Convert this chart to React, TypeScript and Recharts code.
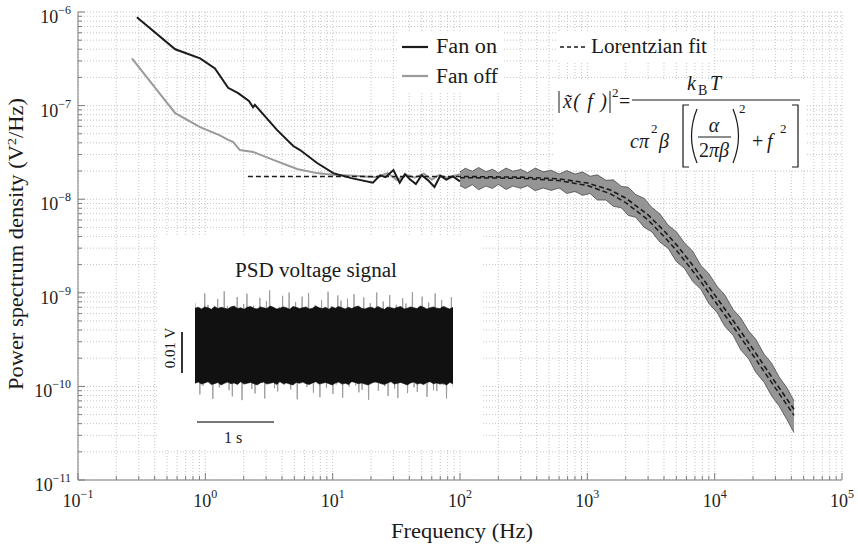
import React from "react";
import { ComposedChart, Line, Area, XAxis, YAxis, CartesianGrid } from "recharts";

const SERIF = "'Liberation Serif', 'Times New Roman', serif";
const BLACK = "#1b1b1b";
const GRAY = "#9a9a9a";
const AXIS = "#7c7c7c";

// log axes: decades with minor multiples
const xDecades = [-1, 0, 1, 2, 3, 4];
const yDecades = [-11, -10, -9, -8, -7];
const minorSteps = [1, 2, 3, 4, 5, 6, 7, 8, 9];
const xTicks = [...xDecades.flatMap((d) => minorSteps.map((m) => m * 10 ** d)), 1e5];
const yTicks = [...yDecades.flatMap((d) => minorSteps.map((m) => m * 10 ** d)), 1e-6];

// fan on, low frequency part (Hz, V^2/Hz)
const fanOnF = [0.29, 0.58, 0.91, 1.19, 1.51, 1.81, 2.2, 2.37, 2.45, 3.65, 4.9, 5.55, 7.5, 10.1, 14, 20.7, 23.6, 26, 30, 33.6, 37, 40, 45, 50, 56, 63, 70, 78, 88, 100];
const fanOnV = [8.8e-7, 4.0e-7, 3.2e-7, 2.5e-7, 1.55e-7, 1.36e-7, 1.12e-7, 9.6e-8, 1.02e-7, 5.5e-8, 3.7e-8, 3.35e-8, 2.45e-8, 1.9e-8, 1.68e-8, 1.5e-8, 1.8e-8, 1.72e-8, 2.05e-8, 1.5e-8, 1.85e-8, 1.65e-8, 1.45e-8, 1.8e-8, 1.6e-8, 1.35e-8, 1.78e-8, 1.62e-8, 1.75e-8, 1.55e-8];

// fan off, low frequency part
const fanOffF = [0.265, 0.58, 0.91, 1.3, 1.51, 1.65, 1.87, 2.37, 3.5, 5.25, 7.5, 10, 15, 19, 22, 27, 32, 38, 44, 52, 60, 68, 80, 100];
const fanOffV = [3.2e-7, 8.3e-8, 5.9e-8, 4.8e-8, 4.3e-8, 4.1e-8, 3.35e-8, 3.2e-8, 2.6e-8, 2.1e-8, 1.9e-8, 1.82e-8, 1.78e-8, 1.74e-8, 1.72e-8, 1.9e-8, 1.6e-8, 1.82e-8, 1.7e-8, 1.88e-8, 1.62e-8, 1.8e-8, 1.7e-8, 1.85e-8];

// noisy spread of both spectra above 100 Hz (upper / lower edge)
const bandF = [100, 110, 125, 140, 160, 180, 200, 230, 260, 300, 340, 390, 450, 520, 600, 690, 800, 920, 1050, 1200, 1400, 1600, 1850, 2100, 2400, 2800, 3200, 3700, 4300, 5000, 5800, 6700, 7800, 9000, 10500, 12000, 14000, 16000, 18500, 21000, 24500, 28000, 32000, 37000, 42000];
const bandHi = [1.96e-8, 2.14e-8, 1.99e-8, 2.18e-8, 1.97e-8, 2.09e-8, 1.91e-8, 2.15e-8, 1.99e-8, 2.08e-8, 1.92e-8, 2.15e-8, 1.96e-8, 2.04e-8, 1.86e-8, 2.02e-8, 1.86e-8, 1.95e-8, 1.76e-8, 1.82e-8, 1.59e-8, 1.61e-8, 1.37e-8, 1.34e-8, 1.12e-8, 1.02e-8, 8.2e-9, 7.0e-9, 5.3e-9, 4.5e-9, 3.4e-9, 2.8e-9, 1.96e-9, 1.6e-9, 1.16e-9, 9.5e-10, 6.6e-10, 5.4e-10, 3.9e-10, 3.2e-10, 2.2e-10, 1.77e-10, 1.27e-10, 9.6e-11, 7.0e-11];
const bandLo = [1.4e-8, 1.3e-8, 1.43e-8, 1.26e-8, 1.38e-8, 1.3e-8, 1.44e-8, 1.27e-8, 1.38e-8, 1.31e-8, 1.39e-8, 1.23e-8, 1.32e-8, 1.24e-8, 1.32e-8, 1.15e-8, 1.21e-8, 1.1e-8, 1.15e-8, 9.8e-9, 9.8e-9, 8.4e-9, 8.1e-9, 6.7e-9, 6.4e-9, 5.0e-9, 4.5e-9, 3.5e-9, 3.0e-9, 2.16e-9, 1.82e-9, 1.33e-9, 1.09e-9, 7.7e-10, 6.1e-10, 4.4e-10, 3.5e-10, 2.46e-10, 1.97e-10, 1.42e-10, 1.1e-10, 7.9e-11, 6.2e-11, 4.4e-11, 3.2e-11];

// Lorentzian fits
const fitOnF = [2.16, 10, 100, 300, 600, 1000, 1500, 2000, 3000, 4000, 5000, 7000, 10000, 15000, 20000, 30000, 42000];
const fitOnV = [1.75e-8, 1.75e-8, 1.75e-8, 1.72e-8, 1.65e-8, 1.49e-8, 1.26e-8, 1.03e-8, 6.8e-9, 4.6e-9, 3.27e-9, 1.84e-9, 9.5e-10, 4.4e-10, 2.5e-10, 1.1e-10, 5.7e-11];
const fitOffF = [100, 300, 600, 1000, 1500, 2000, 3000, 4000, 5000, 7000, 10000, 15000, 20000, 30000, 42000];
const fitOffV = [1.7e-8, 1.67e-8, 1.58e-8, 1.4e-8, 1.15e-8, 9.2e-9, 6.0e-9, 4.0e-9, 2.85e-9, 1.6e-9, 8.2e-10, 3.8e-10, 2.15e-10, 9.6e-11, 4.9e-11];

// inset: voltage trace (mV) and its dense core envelope
const signal = [
  10.4, -6.1, 8.2, -11.9, 5.3, -9.8, 12.7, -7.4, 9.9, -8.5,
  6.6, -13.0, 8.9, -5.7, 11.3, -10.2, 7.1, -8.3, 13.2, -6.4,
  9.5, -10.9, 5.8, -12.4, 7.7, -9.3, 11.8, -6.9, 8.6, -13.3,
  10.1, -7.2, 12.6, -8.8, 6.3, -10.6, 9.7, -11.7, 5.9, -9.1,
  11.6, -6.6, 8.0, -12.9, 10.8, -5.5, 13.4, -8.7, 7.4, -10.4,
  6.2, -11.2, 9.4, -7.8, 12.1, -9.6, 5.6, -8.1, 12.9, -10.7,
  8.5, -6.3, 10.6, -13.1, 7.3, -9.0, 11.9, -7.0, 9.1, -10.1,
  12.8, -8.4, 6.0, -11.5, 9.8, -6.8, 8.7, -12.6, 11.0, -7.5,
  7.0, -10.3, 13.1, -8.9, 9.6, -11.8, 5.4, -9.5, 12.2, -6.2,
  10.9, -12.7, 8.3, -5.9, 11.4, -10.0, 6.8, -8.6, 12.5, -9.7,
  9.2, -11.4, 6.5, -10.8, 11.7, -7.3, 8.8, -13.2, 10.3, -8.0,
  7.6, -5.6, 12.9, -11.0, 9.0, -8.2, 10.7, -9.9, 6.1, -12.3,
  12.3, -7.7, 8.1, -10.5, 9.9, -12.8, 7.2, -8.8, 11.5, -9.2,
  10.2, -11.6, 6.7, -7.1, 13.0, -10.2, 8.4, -11.3, 9.3, -6.5,
  11.9, -9.4, 7.8, -12.5, 10.5, -8.3, 6.4, -10.9, 12.7, -11.1,
  8.6, -7.4, 11.1, -9.6, 9.5, -12.9, 7.5, -8.5, 11.8, -10.0,
];
const coreHi = [
  9.1, 9.3, 8.9, 9.4, 9.2, 8.8, 9.5, 9.0, 9.3, 9.1, 8.9, 9.4, 9.6, 9.0, 9.2, 8.8, 9.3, 9.5, 9.1, 8.9,
  9.4, 9.2, 9.0, 9.6, 9.3, 8.9, 9.1, 9.4, 9.2, 8.8, 9.5, 9.3, 9.0, 9.2, 9.4, 8.9, 9.1, 9.6, 9.2, 9.0,
  9.3, 8.8, 9.4, 9.1, 9.5, 9.2, 8.9, 9.3, 9.0, 9.4, 9.6, 9.1, 8.9, 9.2, 9.3, 9.0, 9.5, 9.1, 8.8, 9.4,
  9.2, 9.0, 9.3, 9.5, 8.9, 9.1, 9.4, 9.2, 9.0, 9.6, 9.3, 8.9, 9.2, 9.4, 9.1, 9.0, 9.5, 9.2, 8.9, 9.3,
];
const coreLo = [
  -9.2, -8.9, -9.4, -9.1, -8.8, -9.5, -9.3, -9.0, -9.6, -9.2, -8.9, -9.3, -9.1, -9.5, -8.8, -9.4, -9.2, -9.0, -9.3, -9.6,
  -9.1, -8.9, -9.4, -9.2, -9.0, -9.5, -8.8, -9.3, -9.1, -9.4, -9.6, -9.0, -9.2, -8.9, -9.3, -9.5, -9.1, -8.8, -9.4, -9.2,
  -9.0, -9.3, -9.6, -9.1, -8.9, -9.4, -9.2, -9.5, -8.8, -9.0, -9.3, -9.1, -9.4, -9.6, -9.2, -8.9, -9.0, -9.3, -9.5, -9.1,
  -8.8, -9.4, -9.2, -9.0, -9.3, -9.6, -9.1, -8.9, -9.4, -9.2, -9.5, -9.0, -8.8, -9.3, -9.1, -9.4, -9.2, -9.6, -9.0, -9.3,
];

const pts = (f: number[], v: number[]) => f.map((x, i) => ({ f: x, v: v[i] }));
const fanOn = pts(fanOnF, fanOnV);
const fanOff = pts(fanOffF, fanOffV);
const fitOn = pts(fitOnF, fitOnV);
const fitOff = pts(fitOffF, fitOffV);
const band = bandF.map((x, i) => ({ f: x, r: [bandLo[i], bandHi[i]] }));
const signalData = signal.map((v, i) => ({ t: i, v }));
const coreData = coreHi.map((h, i) => ({ t: i, r: [coreLo[i], h] }));

const isMajor = (v: number) => Math.abs(Math.log10(v) - Math.round(Math.log10(v))) < 1e-6;
const expLabel = (v: number) => {
  const e = Math.round(Math.log10(v));
  return e < 0 ? "\u2212" + -e : String(e);
};

function BottomTick({ x, y, payload }: any) {
  const major = isMajor(payload.value);
  return (
    <g>
      <line x1={x} x2={x} y1={y} y2={y - (major ? 7 : 4)} stroke={AXIS} />
      {major && (
        <text x={x} y={y + 27} textAnchor="middle" fontSize={18} style={{ fontFamily: SERIF }} fill="#222">
          10<tspan dy={-9} fontSize={12}>{expLabel(payload.value)}</tspan>
        </text>
      )}
    </g>
  );
}

function TopTick({ x, y, payload }: any) {
  const major = isMajor(payload.value);
  return <line x1={x} x2={x} y1={y} y2={y + (major ? 7 : 4)} stroke={AXIS} />;
}

function LeftTick({ x, y, payload }: any) {
  const major = isMajor(payload.value);
  return (
    <g>
      <line x1={x} x2={x + (major ? 7 : 4)} y1={y} y2={y} stroke={AXIS} />
      {major && (
        <text x={x - 7} y={y + 11} textAnchor="end" fontSize={18} style={{ fontFamily: SERIF }} fill="#222">
          10<tspan dy={-9} fontSize={12}>{expLabel(payload.value)}</tspan>
        </text>
      )}
    </g>
  );
}

function RightTick({ x, y, payload }: any) {
  const major = isMajor(payload.value);
  return <line x1={x} x2={x - (major ? 7 : 4)} y1={y} y2={y} stroke={AXIS} />;
}

const insetPos: React.CSSProperties = { position: "absolute", left: 38, top: 53 };
const noMargin = { top: 0, right: 0, bottom: 0, left: 0 };

function Inset() {
  return (
    <div style={{ position: "absolute", left: 157, top: 235, width: 326, height: 215, background: "#fff" }}>
      <svg width={326} height={215} style={{ position: "absolute", left: 0, top: 0, fontFamily: SERIF }} fill="#1a1a1a">
        <text x={159} y={42} textAnchor="middle" fontSize={20} textLength={162} lengthAdjust="spacingAndGlyphs">PSD voltage signal</text>
        <line x1={25} x2={25} y1={97} y2={138} stroke="#333" strokeWidth={2} />
        <text transform="translate(18,113) rotate(-90)" textAnchor="middle" fontSize={15}>0.01 V</text>
        <line x1={40} x2={117} y1={187} y2={187} stroke="#777" strokeWidth={2} />
        <text x={76} y={208} textAnchor="middle" fontSize={16}>1 s</text>
      </svg>
      {/* gray trace underneath */}
      <div style={insetPos}>
        <ComposedChart width={258} height={115} margin={noMargin}>
          <XAxis dataKey="t" type="number" domain={[0, signal.length - 1]} hide />
          <YAxis type="number" domain={[-14, 14]} allowDataOverflow hide />
          <Line data={signalData} dataKey="v" type="linear" stroke="#999" strokeWidth={0.9} dot={false} isAnimationActive={false} />
        </ComposedChart>
      </div>
      {/* dense black core on top */}
      <div style={insetPos}>
        <ComposedChart width={258} height={115} margin={noMargin}>
          <XAxis dataKey="t" type="number" domain={[0, coreHi.length - 1]} hide />
          <YAxis type="number" domain={[-14, 14]} allowDataOverflow hide />
          <Area data={coreData} dataKey="r" type="linear" stroke="#111" strokeWidth={0.6} fill="#111" fillOpacity={1} isAnimationActive={false} />
        </ComposedChart>
      </div>
    </div>
  );
}

function Overlay() {
  return (
    <svg width={858} height={547} style={{ position: "absolute", left: 0, top: 0, pointerEvents: "none", fontFamily: SERIF }} fill="#1a1a1a">
      <text x={462} y={538} textAnchor="middle" fontSize={20} textLength={142} lengthAdjust="spacingAndGlyphs">Frequency (Hz)</text>
      <text transform="translate(23,244) rotate(-90)" textAnchor="middle" fontSize={20} textLength={292} lengthAdjust="spacingAndGlyphs">
        Power spectrum density (V<tspan dy={-7} fontSize={13}>2</tspan><tspan dy={7}>/Hz)</tspan>
      </text>

      <rect x={398} y={32} width={106} height={60} fill="#fff" />
      <rect x={556} y={32} width={156} height={30} fill="#fff" />
      <rect x={553} y={80} width={254} height={90} fill="#fff" />

      <line x1={402} x2={428} y1={47} y2={47} stroke={BLACK} strokeWidth={2.2} />
      <text x={436} y={53} fontSize={20} textLength={61} lengthAdjust="spacingAndGlyphs">Fan on</text>
      <line x1={402} x2={428} y1={76} y2={76} stroke={GRAY} strokeWidth={2.2} />
      <text x={436} y={83} fontSize={20} textLength={62} lengthAdjust="spacingAndGlyphs">Fan off</text>
      <line x1={560} x2={586} y1={47} y2={47} stroke={BLACK} strokeWidth={1.6} strokeDasharray="4 3" />
      <text x={591} y={53} fontSize={20} textLength={116} lengthAdjust="spacingAndGlyphs">Lorentzian fit</text>

      <g fontSize={20} stroke="none">
        <line x1={559} x2={559} y1={91} y2={113} stroke="#1a1a1a" strokeWidth={1} />
        <text x={563} y={108} fontStyle="italic" textLength={44} lengthAdjust="spacing">x̃( f )</text>
        <line x1={610} x2={610} y1={91} y2={113} stroke="#1a1a1a" strokeWidth={1} />
        <text x={612} y={97} fontSize={13}>2</text>
        <text x={619} y={108}>=</text>
        <line x1={632} x2={800} y1={100} y2={100} stroke="#1a1a1a" strokeWidth={1} />
        <text x={687} y={90} fontStyle="italic">k</text>
        <text x={698} y={95} fontSize={14}>B</text>
        <text x={710} y={90} fontStyle="italic">T</text>
        <text x={630} y={148} fontStyle="italic">cπ</text>
        <text x={651} y={133} fontSize={13}>2</text>
        <text x={659} y={148} fontStyle="italic">β</text>
        <path d="M689 105 H683 V167 H689" fill="none" stroke="#1a1a1a" strokeWidth={1.2} />
        <path d="M697 109 Q686 136 697 163" fill="none" stroke="#1a1a1a" strokeWidth={1.2} />
        <text x={714} y={132} textAnchor="middle" fontStyle="italic">α</text>
        <line x1={698} x2={731} y1={137} y2={137} stroke="#1a1a1a" strokeWidth={1} />
        <text x={714} y={157} textAnchor="middle">2<tspan fontStyle="italic">πβ</tspan></text>
        <path d="M733 109 Q744 136 733 163" fill="none" stroke="#1a1a1a" strokeWidth={1.2} />
        <text x={739} y={113} fontSize={13}>2</text>
        <text x={752} y={148}>+</text>
        <text x={767} y={148} fontStyle="italic">f</text>
        <text x={780} y={133} fontSize={13}>2</text>
        <path d="M792 105 H798 V167 H792" fill="none" stroke="#1a1a1a" strokeWidth={1.2} />
      </g>
    </svg>
  );
}

export default function App() {
  return (
    <div style={{ position: "absolute", left: 0, top: 0, width: 858, height: 547, background: "#fff" }}>
      <ComposedChart width={858} height={547} margin={{ top: 12, right: 16, bottom: 0, left: 0 }}>
        <CartesianGrid stroke="#c6c6c6" strokeDasharray="1 2" />
        <XAxis dataKey="f" type="number" scale="log" domain={[0.1, 1e5]} ticks={xTicks} interval={0} allowDataOverflow
          height={67} tickSize={0} tickMargin={0} tickLine={false} axisLine={{ stroke: AXIS }} tick={BottomTick} />
        <XAxis xAxisId="top" orientation="top" dataKey="f" type="number" scale="log" domain={[0.1, 1e5]} ticks={xTicks} interval={0} allowDataOverflow
          height={0} tickSize={0} tickMargin={0} tickLine={false} axisLine={{ stroke: AXIS }} tick={TopTick} />
        <YAxis type="number" scale="log" domain={[1e-11, 1e-6]} ticks={yTicks} interval={0} allowDataOverflow
          width={78} tickSize={0} tickMargin={0} tickLine={false} axisLine={{ stroke: AXIS }} tick={LeftTick} />
        <YAxis yAxisId="right" orientation="right" type="number" scale="log" domain={[1e-11, 1e-6]} ticks={yTicks} interval={0} allowDataOverflow
          width={0} tickSize={0} tickMargin={0} tickLine={false} axisLine={{ stroke: AXIS }} tick={RightTick} />

        <Area data={band} dataKey="r" type="linear" fill="#959595" fillOpacity={1} stroke="#3a3a3a" strokeWidth={0.7} isAnimationActive={false} />
        <Line data={fanOff} dataKey="v" type="linear" stroke={GRAY} strokeWidth={2} dot={false} isAnimationActive={false} />
        <Line data={fanOn} dataKey="v" type="linear" stroke={BLACK} strokeWidth={2} dot={false} isAnimationActive={false} />
        <Line data={fitOff} dataKey="v" type="linear" stroke={BLACK} strokeWidth={1.5} strokeDasharray="5 3" dot={false} isAnimationActive={false} />
        <Line data={fitOn} dataKey="v" type="linear" stroke={BLACK} strokeWidth={1.6} strokeDasharray="5 3" dot={false} isAnimationActive={false} />
      </ComposedChart>
      <Inset />
      <Overlay />
    </div>
  );
}
